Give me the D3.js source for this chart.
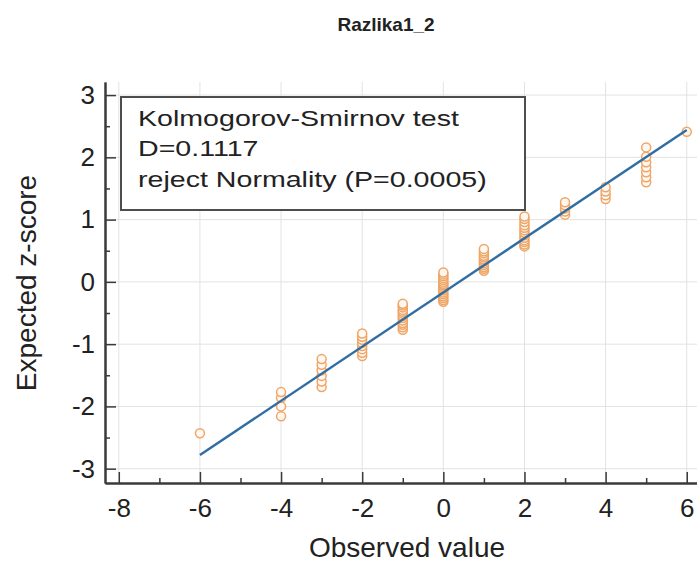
<!DOCTYPE html>
<html>
<head>
<meta charset="utf-8">
<script src="https://cdn.jsdelivr.net/npm/d3@7"></script>
<style>
  body { margin: 0; background: #fff; }
  svg { display: block; }
  text { font-family: "Liberation Sans", Arial, sans-serif; fill: #222; }
</style>
</head>
<body>
<div id="chart"></div>
<script>
// chart data
var title = "Razlika1_2";
var legendLines = ["Kolmogorov-Smirnov test", "D=0.1117", "reject Normality (P=0.0005)"];

var xTicks = [-8, -6, -4, -2, 0, 2, 4, 6];
var xMinor = [-7, -5, -3, -1, 1, 3, 5];
var yTicks = [-3, -2, -1, 0, 1, 2, 3];
var yMinor = [-2.5, -1.5, -0.5, 0.5, 1.5, 2.5];

// observed values (ties) and their expected z-scores
var observed = [-6, -4, -3, -2, -1, 0, 1, 2, 3, 4, 5, 6];
var expectedZ = [
  [-2.43],
  [-2.16, -2.00, -1.86, -1.77],
  [-1.69, -1.60, -1.51, -1.42, -1.33, -1.24],
  [-1.19, -1.14, -1.08, -1.03, -0.98, -0.93, -0.88, -0.83],
  [-0.77, -0.73, -0.69, -0.66, -0.62, -0.58, -0.55, -0.51, -0.48, -0.45, -0.41, -0.38, -0.35],
  [-0.32, -0.29, -0.26, -0.23, -0.20, -0.17, -0.14, -0.11, -0.08, -0.05, -0.03, 0.00, 0.03, 0.06, 0.09, 0.12, 0.15],
  [0.18, 0.21, 0.24, 0.27, 0.30, 0.33, 0.36, 0.39, 0.42, 0.46, 0.49, 0.53],
  [0.57, 0.60, 0.64, 0.67, 0.71, 0.75, 0.79, 0.83, 0.87, 0.91, 0.96, 1.01, 1.05],
  [1.08, 1.13, 1.18, 1.23, 1.28],
  [1.33, 1.39, 1.45, 1.52],
  [1.60, 1.68, 1.76, 1.84, 1.92, 2.01, 2.16],
  [2.41]
];

// fitted normal line
var lineObs = [-6, 6];
var lineZ = [-2.78, 2.44];

var svgWidth = 697;
var svgHeight = 562;

var svg = d3.select("#chart")
    .append("svg")
    .attr("width", svgWidth)
    .attr("height", svgHeight);

var xScale = d3.scaleLinear().domain([-8.34, 6.45]).range([105, 705]);
var yScale = d3.scaleLinear().domain([-3.23, 3.21]).range([483, 82]);

// title
svg.append("text")
    .attr("x", 386)
    .attr("y", 31)
    .attr("text-anchor", "middle")
    .style("font-size", "19px")
    .style("font-weight", "bold")
    .text(title);

// grid
var grid = svg.append("g").attr("stroke", "#e2e2e2").attr("stroke-width", 1);
grid.selectAll(".gx")
    .data(xTicks)
    .enter()
    .append("line")
    .attr("x1", d => xScale(d)).attr("x2", d => xScale(d))
    .attr("y1", yScale.range()[0]).attr("y2", yScale.range()[1]);
grid.selectAll(".gy")
    .data(yTicks)
    .enter()
    .append("line")
    .attr("y1", d => yScale(d)).attr("y2", d => yScale(d))
    .attr("x1", xScale.range()[0]).attr("x2", xScale.range()[1]);

// points
var points = [];
observed.forEach(function(v, i) {
    expectedZ[i].forEach(function(z) {
        points.push({ x: v, z: z });
    });
});

svg.append("g")
    .selectAll("circle")
    .data(points)
    .enter()
    .append("circle")
    .attr("cx", d => xScale(d.x))
    .attr("cy", d => yScale(d.z))
    .attr("r", 4.5)
    .attr("fill", "#fff8f0")
    .attr("stroke", "#eea566")
    .attr("stroke-width", 1.5);

// fitted line
svg.append("path")
    .datum(lineObs.map((v, i) => [v, lineZ[i]]))
    .attr("fill", "none")
    .attr("stroke", "#2f6da3")
    .attr("stroke-width", 2.4)
    .attr("d", d3.line().x(d => xScale(d[0])).y(d => yScale(d[1])));

// axes
function styleAxis(g) {
    g.select(".domain").attr("stroke", "#3a3a3a").attr("stroke-width", 2);
    g.selectAll(".tick line").attr("stroke", "#3a3a3a").attr("stroke-width", 1.5);
    g.selectAll(".tick text").style("font-size", "26px").attr("fill", "#222");
}
var plainNum = d => String(d);

svg.append("g")
    .attr("transform", "translate(0," + yScale.range()[0] + ")")
    .call(d3.axisBottom(xScale).tickValues(xMinor).tickSize(-5).tickSizeOuter(0).tickFormat(""))
    .call(styleAxis);
svg.append("g")
    .attr("transform", "translate(0," + yScale.range()[0] + ")")
    .call(d3.axisBottom(xScale).tickValues(xTicks).tickSize(-11).tickSizeOuter(0).tickPadding(16).tickFormat(plainNum))
    .call(styleAxis);

svg.append("g")
    .attr("transform", "translate(" + xScale.range()[0] + ",0)")
    .call(d3.axisLeft(yScale).tickValues(yMinor).tickSize(-5).tickSizeOuter(0).tickFormat(""))
    .call(styleAxis);
svg.append("g")
    .attr("transform", "translate(" + xScale.range()[0] + ",0)")
    .call(d3.axisLeft(yScale).tickValues(yTicks).tickSize(-11).tickSizeOuter(0).tickPadding(10).tickFormat(plainNum))
    .call(styleAxis);

// axis titles
svg.append("text")
    .attr("x", 407)
    .attr("y", 557)
    .attr("text-anchor", "middle")
    .style("font-size", "28px")
    .text("Observed value");

svg.append("text")
    .attr("transform", "translate(36,283) rotate(-90)")
    .attr("text-anchor", "middle")
    .style("font-size", "28px")
    .text("Expected z-score");

// legend box
var legend = svg.append("g");
legend.append("rect")
    .attr("x", 121)
    .attr("y", 97)
    .attr("width", 404)
    .attr("height", 113)
    .attr("fill", "#fff")
    .attr("stroke", "#4d4d4d")
    .attr("stroke-width", 2);

legend.append("g")
    .attr("transform", "translate(138,0) scale(1.3,1)")
    .selectAll("text")
    .data(legendLines)
    .enter()
    .append("text")
    .attr("x", 0)
    .attr("y", (d, i) => 126 + i * 30.5)
    .style("font-size", "22px")
    .text(d => d);
</script>
</body>
</html>
